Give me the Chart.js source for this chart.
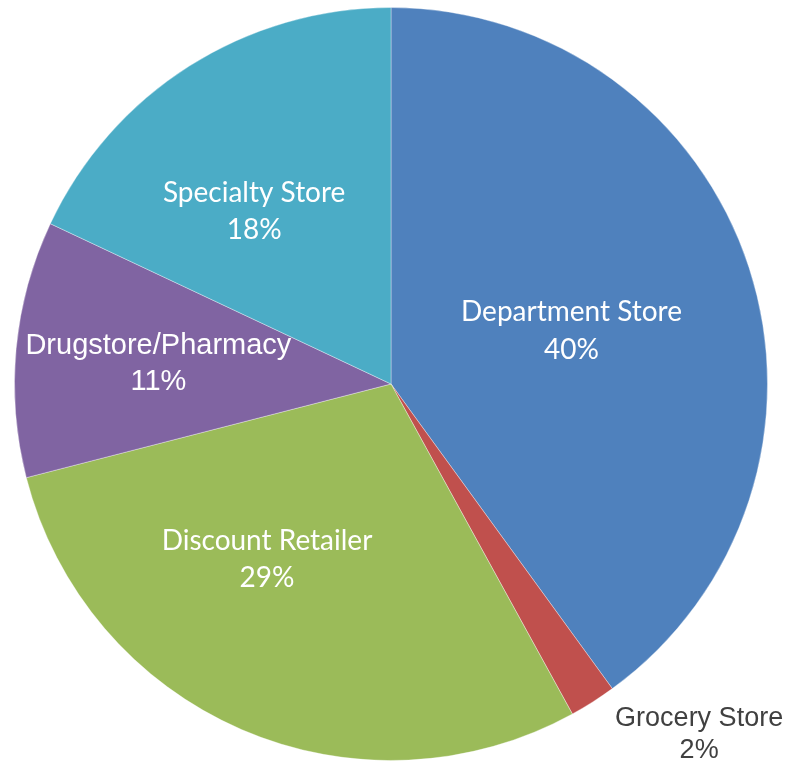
<!DOCTYPE html>
<html>
<head>
<meta charset="utf-8">
<script src="https://cdn.jsdelivr.net/npm/chart.js@4"></script>
<style>
  html, body { margin: 0; padding: 0; background: #fff; }
  #wrap { width: 786px; height: 763px; }
</style>
</head>
<body>
<div id="wrap"><canvas id="storeChart"></canvas></div>
<script>
// Share of purchases by store type
const categories = ["Department Store", "Grocery Store", "Discount Retailer", "Drugstore/Pharmacy", "Specialty Store"];
const shares = [40, 2, 29, 11, 18];
const sliceColors = ["#4F81BD", "#C0504D", "#9BBB59", "#8064A2", "#4BACC6"];

// label anchor: angle (deg, clockwise from 12 o'clock) and distance as a fraction of the radius
const labelPlacement = [
  { angle: 73.5, dist: 0.5, font: "Lato", size: 28, color: "#fff", gap: 38 },
  { angle: 138.7, dist: 1.24, font: "Liberation Sans", size: 27, color: "#404040", gap: 32 },
  { angle: 215.3, dist: 0.57, font: "Lato", size: 28, color: "#fff", gap: 37 },
  { angle: 274.8, dist: 0.62, font: "Liberation Sans", size: 29, color: "#fff", gap: 36 },
  { angle: 321.6, dist: 0.585, font: "Lato", size: 28, color: "#fff", gap: 37 },
];

const sliceLabels = {
  id: "sliceLabels",
  afterDatasetsDraw(chart) {
    const ctx = chart.ctx;
    const arcs = chart.getDatasetMeta(0).data;
    arcs.forEach((arc, i) => {
      const p = labelPlacement[i];
      const a = (p.angle - 90) * Math.PI / 180;
      const x = arc.x + Math.cos(a) * arc.outerRadius * p.dist;
      const y = arc.y + Math.sin(a) * arc.outerRadius * p.dist;
      ctx.save();
      ctx.fillStyle = p.color;
      ctx.font = `${p.size}px "${p.font}"`;
      ctx.textAlign = "center";
      ctx.textBaseline = "middle";
      ctx.fillText(categories[i], x, y - p.gap / 2);
      ctx.fillText(`${shares[i]}%`, x, y + p.gap / 2);
      ctx.restore();
    });
  },
};

new Chart(document.getElementById("storeChart").getContext("2d"), {
  type: "pie",
  data: {
    labels: categories,
    datasets: [
      {
        data: shares,
        backgroundColor: sliceColors,
        borderColor: "rgba(255, 255, 255, 0.35)",
        borderWidth: 1,
      },
    ],
  },
  options: {
    responsive: true,
    maintainAspectRatio: false,
    animation: false,
    layout: { padding: { left: 14, right: 18, top: 7, bottom: 2 } },
    plugins: {
      legend: { display: false },
      tooltip: { enabled: false },
    },
  },
  plugins: [sliceLabels],
});
</script>
</body>
</html>
